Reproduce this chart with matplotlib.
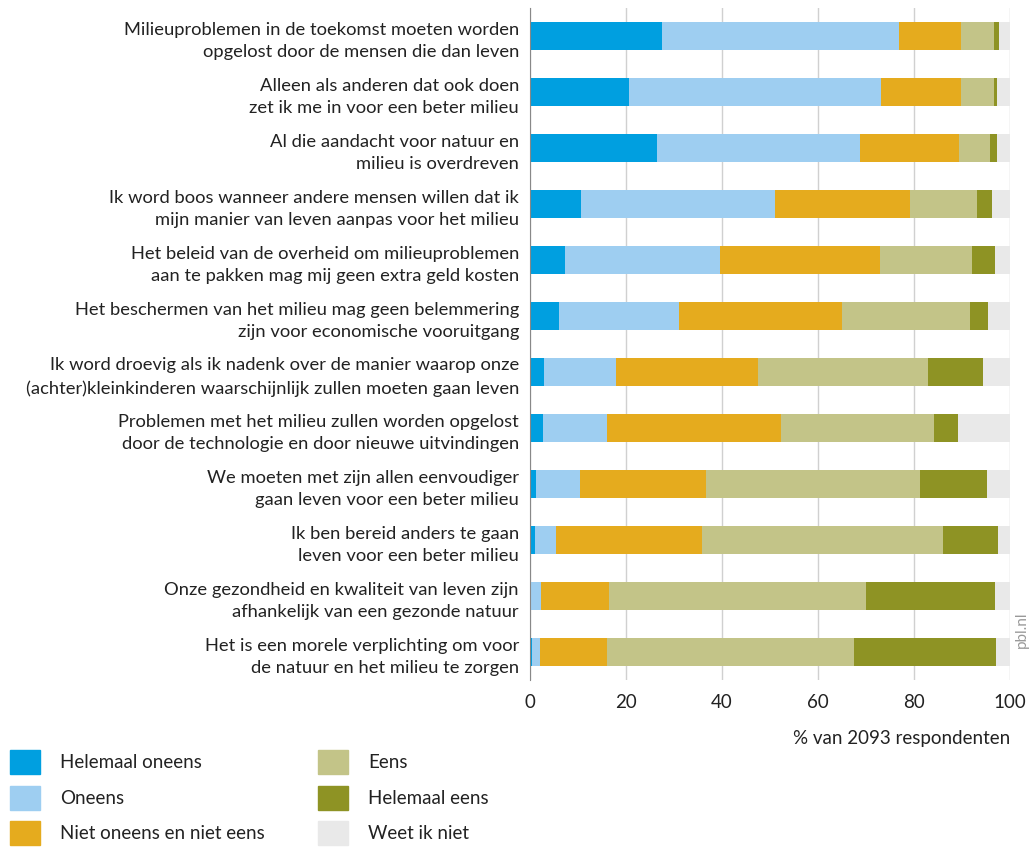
import numpy as np
import matplotlib.pyplot as plt
from matplotlib.patches import Rectangle

plt.rcParams['font.family'] = ['Lato', 'DejaVu Sans']

statements = [
    "Milieuproblemen in de toekomst moeten worden\nopgelost door de mensen die dan leven",
    "Alleen als anderen dat ook doen\nzet ik me in voor een beter milieu",
    "Al die aandacht voor natuur en\nmilieu is overdreven",
    "Ik word boos wanneer andere mensen willen dat ik\nmijn manier van leven aanpas voor het milieu",
    "Het beleid van de overheid om milieuproblemen\naan te pakken mag mij geen extra geld kosten",
    "Het beschermen van het milieu mag geen belemmering\nzijn voor economische vooruitgang",
    "Ik word droevig als ik nadenk over de manier waarop onze\n(achter)kleinkinderen waarschijnlijk zullen moeten gaan leven",
    "Problemen met het milieu zullen worden opgelost\ndoor de technologie en door nieuwe uitvindingen",
    "We moeten met zijn allen eenvoudiger\ngaan leven voor een beter milieu",
    "Ik ben bereid anders te gaan\nleven voor een beter milieu",
    "Onze gezondheid en kwaliteit van leven zijn\nafhankelijk van een gezonde natuur",
    "Het is een morele verplichting om voor\nde natuur en het milieu te zorgen",
]

helemaal_oneens = [27.6, 20.7, 26.4, 10.7, 7.2, 6.0, 2.9, 2.7, 1.3, 1.0, 0.1, 0.4]
oneens          = [49.2, 52.4, 42.4, 40.4, 32.3, 25.0, 15.1, 13.4, 9.1, 4.5, 2.1, 1.7]
neutraal        = [13.0, 16.7, 20.6, 28.0, 33.4, 34.1, 29.4, 36.1, 26.2, 30.3, 14.2, 14.0]
eens            = [6.9, 6.9, 6.4, 14.1, 19.1, 26.5, 35.5, 32.0, 44.7, 50.2, 53.5, 51.3]
helemaal_eens   = [1.0, 0.6, 1.5, 3.0, 4.8, 3.9, 11.5, 4.9, 13.9, 11.4, 27.0, 29.7]
weet_niet       = [2.3, 2.7, 2.7, 3.8, 3.2, 4.5, 5.6, 10.9, 4.8, 2.6, 3.1, 2.9]

categories = ["Helemaal oneens", "Oneens", "Niet oneens en niet eens",
              "Eens", "Helemaal eens", "Weet ik niet"]
colors = ["#009fe0", "#9ecef1", "#e5ab1e", "#c3c488", "#8e9324", "#e9e9e9"]
series = [helemaal_oneens, oneens, neutraal, eens, helemaal_eens, weet_niet]

fig = plt.figure(figsize=(10.31, 8.47), dpi=100)
ax = fig.add_axes([530/1031, 1 - 680/847, 480/1031, 672/847])

y = np.arange(len(statements))
left = np.zeros(len(statements))
for vals, col in zip(series, colors):
    ax.barh(y, vals, left=left, height=0.5, color=col, linewidth=0, zorder=2)
    left += np.array(vals)

ax.set_ylim(len(statements) - 0.5, -0.5)
ax.set_xlim(0, 100)
ax.set_xticks([0, 20, 40, 60, 80, 100])
ax.set_yticks(y)
ax.set_yticklabels(statements, fontsize=13.2, linespacing=1.5, color='#222222')
ax.grid(axis='x', color='#d0d0d0', linewidth=1, zorder=0)
for s in ['top', 'right', 'bottom']:
    ax.spines[s].set_visible(False)
ax.spines['left'].set_color('#888888')
ax.tick_params(axis='y', length=0, pad=8)
ax.tick_params(axis='x', length=0, labelsize=13.5, pad=10, colors='#222222')
ax.set_xlabel('% van 2093 respondenten', fontsize=13.5, color='#222222')
ax.xaxis.set_label_coords(1.0, -0.075)
ax.xaxis.label.set_horizontalalignment('right')

fig.text(1022/1031, 1 - 630/847, 'pbl.nl', rotation=90, fontsize=11,
         color='#999999', ha='center', va='center')

# legend
leg_pos = [(10, 762), (10, 798), (10, 833), (318, 762), (318, 798), (318, 833)]
for (px, py), lab, col in zip(leg_pos, categories, colors):
    fig.patches.append(Rectangle((px/1031, 1 - (py + 12)/847), 30/1031, 24/847,
                                 transform=fig.transFigure, color=col))
    fig.text((px + 50)/1031, 1 - py/847, lab, fontsize=13.5, color='#222222',
             va='center', ha='left')

plt.savefig('out.png', dpi=100)
